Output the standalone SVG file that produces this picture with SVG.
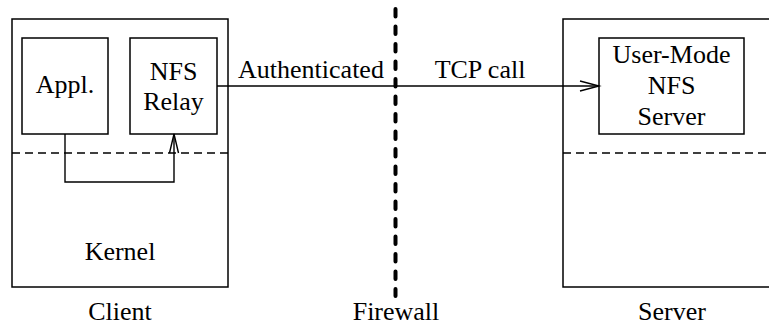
<svg xmlns="http://www.w3.org/2000/svg" width="769" height="327" viewBox="0 0 769 327">
  <style>
    .box { fill: none; stroke: #000; stroke-width: 1.5; }
    .sep { fill: none; stroke: #000; stroke-width: 1.5; stroke-dasharray: 8 5; }
    .wire { fill: none; stroke: #000; stroke-width: 1.4; }
    .head { fill: none; stroke: #000; stroke-width: 1.4; stroke-linejoin: miter; }
    .fw { fill: none; stroke: #000; stroke-width: 4; stroke-linecap: round; stroke-dasharray: 7.5 10; }
    .lbl { font-size: 26px; fill: #000; text-anchor: middle; }
  </style>

  <!-- client host -->
  <g id="client">
    <rect class="box" x="12" y="19" width="216" height="268"/>
    <line class="sep" x1="12" y1="153" x2="228" y2="153"/>
    <text class="lbl" style="font-family:'Liberation Serif',serif" x="120" y="260">Kernel</text>
    <text class="lbl" style="font-family:'Liberation Serif',serif" x="120" y="320">Client</text>
  </g>

  <g id="appl">
    <rect class="box" x="22" y="38" width="86" height="96"/>
    <text class="lbl" style="font-family:'Liberation Serif',serif" x="65" y="93">Appl.</text>
  </g>

  <g id="nfs-relay">
    <rect class="box" x="130" y="38" width="87" height="96"/>
    <text class="lbl" style="font-family:'Liberation Serif',serif" x="173.5" y="80">NFS</text>
    <text class="lbl" style="font-family:'Liberation Serif',serif" x="173.5" y="110">Relay</text>
  </g>

  <!-- server host (box runs past the right edge) -->
  <g id="server">
    <path class="box" d="M780 19 H563 V287 H780"/>
    <line class="sep" x1="563" y1="153" x2="769" y2="153"/>
    <text class="lbl" style="font-family:'Liberation Serif',serif" x="672" y="320">Server</text>
  </g>

  <g id="nfs-server">
    <rect class="box" x="599" y="38" width="145" height="96"/>
    <text class="lbl" style="font-family:'Liberation Serif',serif" x="671.5" y="63">User-Mode</text>
    <text class="lbl" style="font-family:'Liberation Serif',serif" x="671.5" y="94">NFS</text>
    <text class="lbl" style="font-family:'Liberation Serif',serif" x="671.5" y="125">Server</text>
  </g>

  <!-- firewall -->
  <g id="firewall">
    <line class="fw" x1="395.5" y1="9" x2="395.5" y2="296"/>
    <text class="lbl" style="font-family:'Liberation Serif',serif" x="396" y="320">Firewall</text>
  </g>

  <!-- connectors -->
  <g id="connectors">
    <polyline class="wire" points="65,134 65,182 174,182 174,134"/>
    <polyline class="head" points="169.5,153 174,134 178.5,153"/>
    <line class="wire" x1="217" y1="86" x2="599" y2="86"/>
    <polyline class="head" points="580,81 599,86 580,91"/>
    <text class="lbl" style="font-family:'Liberation Serif',serif" x="311" y="78">Authenticated</text>
    <text class="lbl" style="font-family:'Liberation Serif',serif" x="480" y="78">TCP call</text>
  </g>
</svg>
